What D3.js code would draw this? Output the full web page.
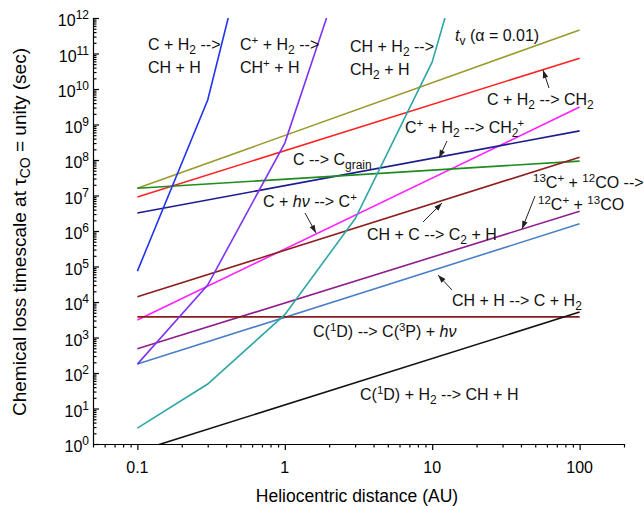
<!DOCTYPE html>
<html><head><meta charset="utf-8">
<script src="https://cdn.jsdelivr.net/npm/d3@7"></script>
<style>
body{margin:0;background:#fff;}
svg{display:block;font-family:"Liberation Sans",Arial,Helvetica,sans-serif;}
</style></head>
<body><svg id="c" width="644" height="506"></svg>
<script>
// ---- data (heliocentric distance in AU, timescale in sec) ----
const blueR   = [0.1, 0.3, 0.413];           const blueT   = [7.4e4, 4.9e9, 1e12];
const violetR = [0.1, 0.3, 1, 1.92];         const violetT = [178, 3.0e4, 3.0e8, 1e12];
const tealR   = [0.1, 0.3, 1, 3, 10, 12.2];  const tealT   = [2.8, 49, 4.4e3, 2.2e6, 5.8e10, 1e12];
const endR    = [0.1, 100];
const oliveT  = [1.6e7, 4.6e11];
const redT    = [9.1e6, 7.4e10];
const magT    = [3.1e3, 3.1e9];
const navyT   = [3.2e6, 6.6e8];
const greenT  = [1.6e7, 9.3e7];
const brownT  = [1.4e4, 1.2e8];
const purpT   = [480, 3.6e6];
const steelT  = [178, 1.6e6];
const horizT  = [3.8e3, 3.8e3];
const blackT  = [0.62, 5.2e3];
const xMajor  = [0.1, 1, 10, 100];
const xLabels = ["0.1", "1", "10", "100"];
const yExp    = [0,1,2,3,4,5,6,7,8,9,10,11,12];

const series = [
  {r: endR, t: oliveT, c: "#9a9a2e"},
  {r: endR, t: redT, c: "#ff2222"},
  {r: endR, t: magT, c: "#ff22ff"},
  {r: endR, t: navyT, c: "#1c1c8e"},
  {r: endR, t: greenT, c: "#1e8c1e"},
  {r: endR, t: brownT, c: "#8e1e1e"},
  {r: endR, t: purpT, c: "#8e1e8e"},
  {r: endR, t: steelT, c: "#4a80c8"},
  {r: endR, t: horizT, c: "#861c1c"},
  {r: endR, t: blackT, c: "#111111"},
  {r: blueR, t: blueT, c: "#2233ee"},
  {r: violetR, t: violetT, c: "#8033ee"},
  {r: tealR, t: tealT, c: "#2fa6a6"}
];

const svg = d3.select("#c");
const L = 93, R = 624, T = 18, B = 444;
const x = d3.scaleLog().domain([0.05, 200]).range([L, R]);
const y = d3.scaleLog().domain([1, 1e12]).range([B, T]);

const defs = svg.append("defs");
defs.append("clipPath").attr("id","clip")
  .append("rect").attr("x",L).attr("y",T).attr("width",R-L).attr("height",B-T);
defs.append("marker").attr("id","ah").attr("viewBox","0 0 10 10").attr("refX",10).attr("refY",5)
  .attr("markerWidth",9).attr("markerHeight",8).attr("markerUnits","userSpaceOnUse").attr("orient","auto")
  .append("path").attr("d","M0,1.5 L10,5 L0,8.5 Z").attr("fill","#222");

// ticks
const xTicks = [];
for (let e = -2; e <= 2; e++) for (let m = 1; m <= 9; m++) {
  const v = m * Math.pow(10, e);
  if (v >= 0.05 - 1e-9 && v <= 200 + 1e-9) xTicks.push(+v.toPrecision(3));
}
const yTicks = [];
for (let e = 0; e <= 12; e++) for (let m = 1; m <= 9; m++) {
  const v = m * Math.pow(10, e);
  if (v <= 1e12) yTicks.push(v);
}
const isMajor = v => Math.abs(Math.log10(v) - Math.round(Math.log10(v))) < 1e-6;

const gx = svg.append("g").attr("transform", `translate(0,${B})`)
  .call(d3.axisBottom(x).tickValues(xTicks).tickSizeOuter(0).tickFormat(""));
gx.selectAll(".tick line").attr("y2", d => isMajor(d) ? 6 : 3.5);
gx.select(".domain").attr("d", `M${L},0.5H${R}`);
gx.selectAll("line,path").attr("stroke","#000").attr("stroke-width",1.2);

const gy = svg.append("g").attr("transform", `translate(${L},0)`)
  .call(d3.axisRight(y).tickValues(yTicks).tickSizeOuter(0).tickFormat(""));
gy.selectAll(".tick line").attr("x2", d => isMajor(d) ? 6 : 3.5);
gy.select(".domain").attr("d", `M0.5,${T}V${B}`);
gy.selectAll("line,path").attr("stroke","#000").attr("stroke-width",1.2);

// x tick labels
svg.append("g").selectAll("text").data(xMajor).join("text")
  .attr("x", d => x(d)).attr("y", B + 29).attr("text-anchor","middle")
  .attr("font-size", 16).text((d, i) => xLabels[i]);
// y tick labels
const yl = svg.append("g").selectAll("text").data(yExp).join("text")
  .attr("x", L - 4).attr("y", d => y(Math.pow(10, d)) + 8).attr("text-anchor","end").attr("font-size",16);
yl.each(function(d){
  const t = d3.select(this);
  t.append("tspan").text("10");
  t.append("tspan").attr("font-size",12).attr("dy",-7).text(String(d));
});

// lines
const line = d3.line().x(d => x(d[0])).y(d => y(d[1]));
const gl = svg.append("g").attr("clip-path","url(#clip)");
series.forEach(s => {
  gl.append("path").attr("d", line(s.r.map((r, i) => [r, s.t[i]])))
    .attr("fill","none").attr("stroke", s.c).attr("stroke-width",1.6);
});

// rich text helper: _{sub} ^{sup} *italic* and &{sub|sup} sub followed by sup
function rich(px, py, str, size) {
  size = size || 16;
  const t = svg.append("text").attr("x", px).attr("y", py).attr("font-size", size).attr("fill","#111");
  const parts = str.split(/(_\{[^}]*\}|\^\{[^}]*\}|\*[^*]*\*|&\{[^}]*\})/).filter(p => p !== "");
  let shift = 0;
  parts.forEach(p => {
    if (p.startsWith("_{")) {
      t.append("tspan").attr("font-size", size*0.75).attr("dy", 4 - shift).text(p.slice(2,-1)); shift = 4;
    } else if (p.startsWith("^{")) {
      t.append("tspan").attr("font-size", size*0.72).attr("dy", -6 - shift).text(p.slice(2,-1)); shift = -6;
    } else if (p.startsWith("&{")) {
      const [a, b] = p.slice(2,-1).split("|");
      t.append("tspan").attr("font-size", size*0.75).attr("dy", 4 - shift).text(a);
      t.append("tspan").attr("font-size", size*0.7).attr("dy", -10).attr("dx", -1).text(b);
      shift = -6;
    } else if (p.startsWith("*")) {
      t.append("tspan").attr("font-style","italic").attr("dy", -shift).text(p.slice(1,-1)); shift = 0;
    } else {
      t.append("tspan").attr("dy", -shift).text(p); shift = 0;
    }
  });
  return t;
}

rich(148, 50, "C + H_{2} -->");
rich(148, 73, "CH + H");
rich(240, 50, "C^{+} + H_{2} -->");
rich(240, 73, "CH^{+} + H");
rich(350, 52, "CH + H_{2} -->");
rich(350, 75, "CH_{2} + H");
rich(455, 41, "*t*_{v} (α = 0.01)");
rich(487, 105, "C + H_{2} --> CH_{2}");
rich(405, 133, "C^{+} + H_{2} --> CH&{2|+}");
rich(293, 165, "C --> C_{grain}");
rich(263, 207, "C + *hν* --> C^{+}");
rich(367, 240, "CH + C --> C_{2} + H");
rich(533, 188, "^{13}C^{+} + ^{12}CO -->");
rich(538, 210, "^{12}C^{+} + ^{13}CO");
rich(452, 306, "CH + H --> C + H_{2}");
rich(313, 337, "C(^{1}D) --> C(^{3}P) + *hν*");
rich(360, 400, "C(^{1}D) + H_{2} --> CH + H");

// arrows
const arrows = [
  [549, 88, 543, 70],
  [447, 141, 439, 158],
  [305, 213, 316, 233],
  [423, 222, 442, 203],
  [535, 196, 522, 229],
  [452, 290, 438, 275]
];
svg.append("g").selectAll("line").data(arrows).join("line")
  .attr("x1", d => d[0]).attr("y1", d => d[1]).attr("x2", d => d[2]).attr("y2", d => d[3])
  .attr("stroke","#222").attr("stroke-width",1).attr("marker-end","url(#ah)");

// axis titles
svg.append("text").attr("x", 357).attr("y", 502).attr("text-anchor","middle").attr("font-size",17.5)
  .text("Heliocentric distance (AU)");
const yt = svg.append("text").attr("transform","translate(26,232) rotate(-90)").attr("text-anchor","middle").attr("font-size",19);
yt.append("tspan").text("Chemical loss timescale at τ");
yt.append("tspan").attr("font-size",14).attr("dy",4).text("CO");
yt.append("tspan").attr("dy",-4).text(" = unity (sec)");
</script></body></html>
